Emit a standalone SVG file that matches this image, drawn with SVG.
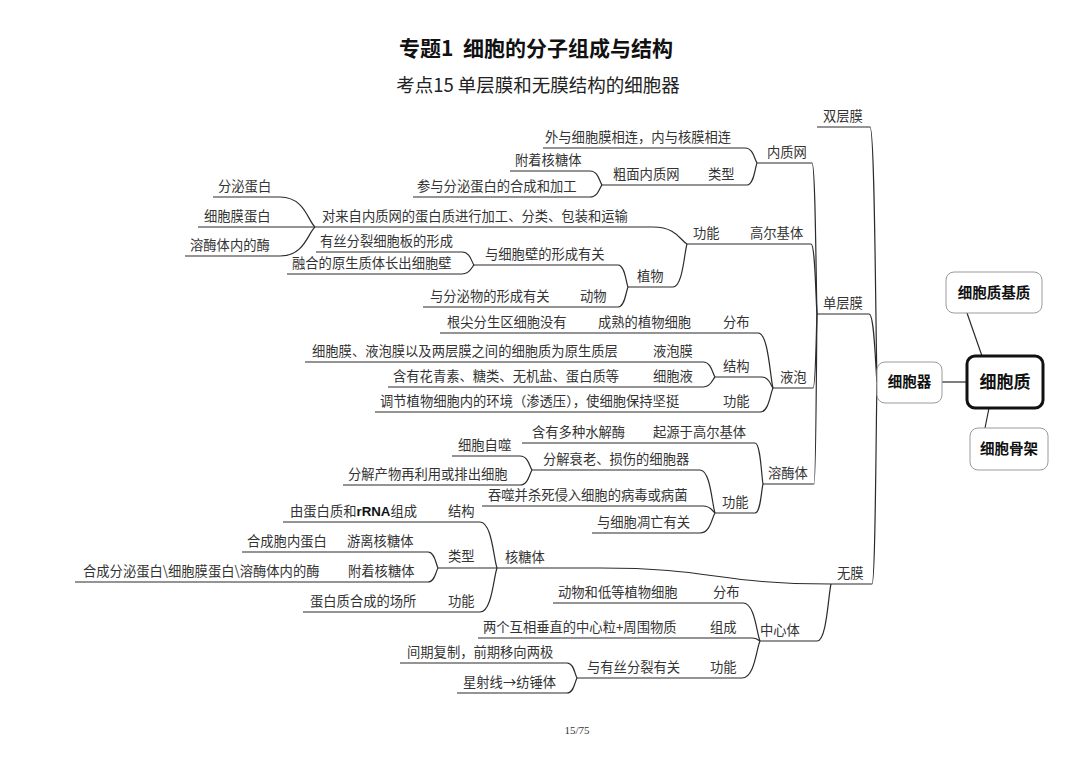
<svg xmlns="http://www.w3.org/2000/svg" width="1080" height="763" viewBox="0 0 1080 763">
<style>
.t{font-family:"Noto Sans CJK SC","Noto Sans",sans-serif;font-size:13.3px;fill:#333}
.rn{font-family:"Liberation Sans",Arial,sans-serif;font-weight:bold;fill:#111}
.bx{font-family:"Noto Sans CJK SC",sans-serif;font-weight:bold;fill:#111;text-anchor:middle}
.ln{fill:none;stroke:#2b2b2b;stroke-width:1.2}
.box{fill:#fff;stroke:#9a9a9a;stroke-width:1}
.root{fill:#fff;stroke:#111;stroke-width:3}
</style>
<rect width="1080" height="763" fill="#fff"/>
<g id="title">
<text x="536" y="56" text-anchor="middle" style="white-space:pre" font-family="Noto Sans CJK SC, sans-serif" font-weight="bold" font-size="21" fill="#111">专题1  细胞的分子组成与结构</text>
<text x="538" y="92" text-anchor="middle" font-family="Noto Sans CJK SC, sans-serif" font-size="18.5" fill="#222">考点15 单层膜和无膜结构的细胞器</text>
<text x="577" y="734" text-anchor="middle" font-family="Liberation Serif, serif" font-size="11" fill="#333">15/75</text>
</g>
<g id="connectors">
<path class="ln" d="M967,313 L982,356"/>
<path class="ln" d="M989,408 L985,428"/>
<path class="ln" d="M942,382 H967"/>
<path class="ln" d="M817,127 H870 C874.9,127 875.6,331 877,382"/>
<path class="ln" d="M817,314 H869 C874.6,314 875.4,368.4 877,382"/>
<path class="ln" d="M831,584 H872 C875.5,584 876,422.4 877,382"/>
<path class="ln" d="M757,163 H812 C815.5,163 816,283.8 817,314"/>
<path class="ln" d="M687,244 H811 C815.2,244 815.8,300 817,314"/>
<path class="ln" d="M773,388 H813 C815.8,388 816.2,328.8 817,314"/>
<path class="ln" d="M763,484 H814 C816.1,484 816.4,348 817,314"/>
<path class="ln" d="M497,568 H600 C715,568 715,584 831,584"/>
<path class="ln" d="M760,641 H817 C826.8,641 828.2,595.4 831,584"/>
<path class="ln" d="M543,148 H745 C753.4,148 754.6,160 757,163"/>
<path class="ln" d="M602,185 H747 C754,185 755,167.4 757,163"/>
<path class="ln" d="M510,171 H590 C598.4,171 599.6,182.2 602,185"/>
<path class="ln" d="M413,197 H590 C598.4,197 599.6,187.4 602,185"/>
<path class="ln" d="M315,227 H653 C676.8,227 680.2,240.6 687,244"/>
<path class="ln" d="M213,197 H280 C304.5,197 308,221 315,227"/>
<path class="ln" d="M198,227 H315"/>
<path class="ln" d="M185,256 H280 C304.5,256 308,232.8 315,227"/>
<path class="ln" d="M628,287 H673 C682.8,287 684.2,252.6 687,244"/>
<path class="ln" d="M474,265 H618 C625,265 626,282.6 628,287"/>
<path class="ln" d="M316,252 H462 C470.4,252 471.6,262.4 474,265"/>
<path class="ln" d="M287,274 H462 C470.4,274 471.6,266.8 474,265"/>
<path class="ln" d="M423,307 H618 C625,307 626,291 628,287"/>
<path class="ln" d="M440,333 H758 C768.5,333 770,377 773,388"/>
<path class="ln" d="M715,377 H762 C769.7,377 770.8,385.8 773,388"/>
<path class="ln" d="M305,362 H703 C711.4,362 712.6,374 715,377"/>
<path class="ln" d="M388,387 H703 C711.4,387 712.6,379 715,377"/>
<path class="ln" d="M375,412 H760 C769.1,412 770.4,392.8 773,388"/>
<path class="ln" d="M522,443 H755 C760.6,443 761.4,475.8 763,484"/>
<path class="ln" d="M715,513 H755 C760.6,513 761.4,489.8 763,484"/>
<path class="ln" d="M532,470 H700 C710.5,470 712,504.4 715,513"/>
<path class="ln" d="M452,456 H520 C528.4,456 529.6,467.2 532,470"/>
<path class="ln" d="M343,485 H520 C528.4,485 529.6,473 532,470"/>
<path class="ln" d="M482,506 H703 C711.4,506 712.6,511.6 715,513"/>
<path class="ln" d="M592,533 H700 C710.5,533 712,517 715,513"/>
<path class="ln" d="M283,522 H480 C491.9,522 493.6,558.8 497,568"/>
<path class="ln" d="M438,568 H497"/>
<path class="ln" d="M242,552 H428 C435,552 436,564.8 438,568"/>
<path class="ln" d="M75,582 H428 C435,582 436,570.8 438,568"/>
<path class="ln" d="M303,612 H480 C491.9,612 493.6,576.8 497,568"/>
<path class="ln" d="M553,603 H743 C754.9,603 756.6,633.4 760,641"/>
<path class="ln" d="M478,638 H752 C757.6,638 758.4,640.4 760,641"/>
<path class="ln" d="M577,678 H742 C754.6,678 756.4,648.4 760,641"/>
<path class="ln" d="M400,663 H567 C574,663 575,675 577,678"/>
<path class="ln" d="M457,693 H567 C574,693 575,681 577,678"/>
</g>
<g id="n-root"><rect class="root" x="967" y="356" width="76" height="52" rx="8"/><text class="bx" x="1005" y="388" font-size="17">细胞质</text></g>
<g id="n-jizhi"><rect class="box" x="946" y="272" width="96" height="41" rx="8"/><text class="bx" x="994" y="298" font-size="14.5">细胞质基质</text></g>
<g id="n-gujia"><rect class="box" x="970" y="428" width="78" height="42" rx="8"/><text class="bx" x="1009" y="454" font-size="14.5">细胞骨架</text></g>
<g id="n-qi"><rect class="box" x="877" y="362" width="65" height="41" rx="8"/><text class="bx" x="909.5" y="387" font-size="14.5">细胞器</text></g>
<g id="n-shuang"><text class="t" x="823" y="121">双层膜</text></g>
<g id="n-dan"><text class="t" x="823" y="308">单层膜</text></g>
<g id="n-wu"><text class="t" x="837" y="578">无膜</text></g>
<g id="n-nzw"><text class="t" x="767" y="157">内质网</text></g>
<g id="n-nzw1"><text class="t" x="545" y="142">外与细胞膜相连，内与核膜相连</text></g>
<g id="n-nzw-lx"><text class="t" x="708" y="179">类型</text></g>
<g id="n-cm"><text class="t" x="613" y="179">粗面内质网</text></g>
<g id="n-cm1"><text class="t" x="515" y="165">附着核糖体</text></g>
<g id="n-cm2"><text class="t" x="417" y="191">参与分泌蛋白的合成和加工</text></g>
<g id="n-gej"><text class="t" x="750" y="238">高尔基体</text></g>
<g id="n-gej-gn"><text class="t" x="693" y="238">功能</text></g>
<g id="n-gej1"><text class="t" x="322" y="221">对来自内质网的蛋白质进行加工、分类、包装和运输</text></g>
<g id="n-fm"><text class="t" x="218" y="191">分泌蛋白</text></g>
<g id="n-xbm"><text class="t" x="204" y="221">细胞膜蛋白</text></g>
<g id="n-rmm"><text class="t" x="190" y="250">溶酶体内的酶</text></g>
<g id="n-zw"><text class="t" x="637" y="281">植物</text></g>
<g id="n-zw1"><text class="t" x="485" y="259">与细胞壁的形成有关</text></g>
<g id="n-zw1a"><text class="t" x="320" y="246">有丝分裂细胞板的形成</text></g>
<g id="n-zw1b"><text class="t" x="292" y="268">融合的原生质体长出细胞壁</text></g>
<g id="n-dw"><text class="t" x="580" y="301">动物</text></g>
<g id="n-dw1"><text class="t" x="430" y="301">与分泌物的形成有关</text></g>
<g id="n-yp"><text class="t" x="780" y="382">液泡</text></g>
<g id="n-yp-fb"><text class="t" x="723" y="327">分布</text></g>
<g id="n-yp-fb1"><text class="t" x="598" y="327">成熟的植物细胞</text></g>
<g id="n-yp-fb2"><text class="t" x="447" y="327">根尖分生区细胞没有</text></g>
<g id="n-yp-jg"><text class="t" x="723" y="371">结构</text></g>
<g id="n-ypm"><text class="t" x="653" y="356">液泡膜</text></g>
<g id="n-ypm1"><text class="t" x="312" y="356">细胞膜、液泡膜以及两层膜之间的细胞质为原生质层</text></g>
<g id="n-xby"><text class="t" x="653" y="381">细胞液</text></g>
<g id="n-xby1"><text class="t" x="393" y="381">含有花青素、糖类、无机盐、蛋白质等</text></g>
<g id="n-yp-gn"><text class="t" x="723" y="406">功能</text></g>
<g id="n-yp-gn1"><text class="t" x="380" y="406">调节植物细胞内的环境（渗透压），使细胞保持坚挺</text></g>
<g id="n-rmt"><text class="t" x="768" y="478">溶酶体</text></g>
<g id="n-rmt-qy"><text class="t" x="653" y="437">起源于高尔基体</text></g>
<g id="n-rmt-qy1"><text class="t" x="532" y="437">含有多种水解酶</text></g>
<g id="n-rmt-gn"><text class="t" x="722" y="507">功能</text></g>
<g id="n-rmt-fj"><text class="t" x="543" y="464">分解衰老、损伤的细胞器</text></g>
<g id="n-zs"><text class="t" x="458" y="450">细胞自噬</text></g>
<g id="n-fjcw"><text class="t" x="348" y="479">分解产物再利用或排出细胞</text></g>
<g id="n-ts"><text class="t" x="488" y="500">吞噬并杀死侵入细胞的病毒或病菌</text></g>
<g id="n-dwang"><text class="t" x="597" y="527">与细胞凋亡有关</text></g>
<g id="n-htt"><text class="t" x="505" y="562">核糖体</text></g>
<g id="n-htt-jg"><text class="t" x="448" y="516">结构</text></g>
<g id="n-htt-jg1"><text class="t" x="290" y="516">由蛋白质和<tspan class="rn">rRNA</tspan>组成</text></g>
<g id="n-htt-lx"><text class="t" x="448" y="561">类型</text></g>
<g id="n-yl"><text class="t" x="347" y="546">游离核糖体</text></g>
<g id="n-yl1"><text class="t" x="247" y="546">合成胞内蛋白</text></g>
<g id="n-fz"><text class="t" x="348" y="576">附着核糖体</text></g>
<g id="n-fz1"><text class="t" x="83" y="576">合成分泌蛋白\细胞膜蛋白\溶酶体内的酶</text></g>
<g id="n-htt-gn"><text class="t" x="448" y="606">功能</text></g>
<g id="n-htt-gn1"><text class="t" x="310" y="606">蛋白质合成的场所</text></g>
<g id="n-zxt"><text class="t" x="760" y="635">中心体</text></g>
<g id="n-zxt-fb"><text class="t" x="713" y="597">分布</text></g>
<g id="n-zxt-fb1"><text class="t" x="558" y="597">动物和低等植物细胞</text></g>
<g id="n-zxt-zc"><text class="t" x="710" y="632">组成</text></g>
<g id="n-zxt-zc1"><text class="t" x="483" y="632">两个互相垂直的中心粒+周围物质</text></g>
<g id="n-zxt-gn"><text class="t" x="710" y="672">功能</text></g>
<g id="n-zxt-gn1"><text class="t" x="587" y="672">与有丝分裂有关</text></g>
<g id="n-jq"><text class="t" x="407" y="657">间期复制，前期移向两极</text></g>
<g id="n-xsx"><text class="t" x="463" y="687">星射线→纺锤体</text></g>
</svg>
